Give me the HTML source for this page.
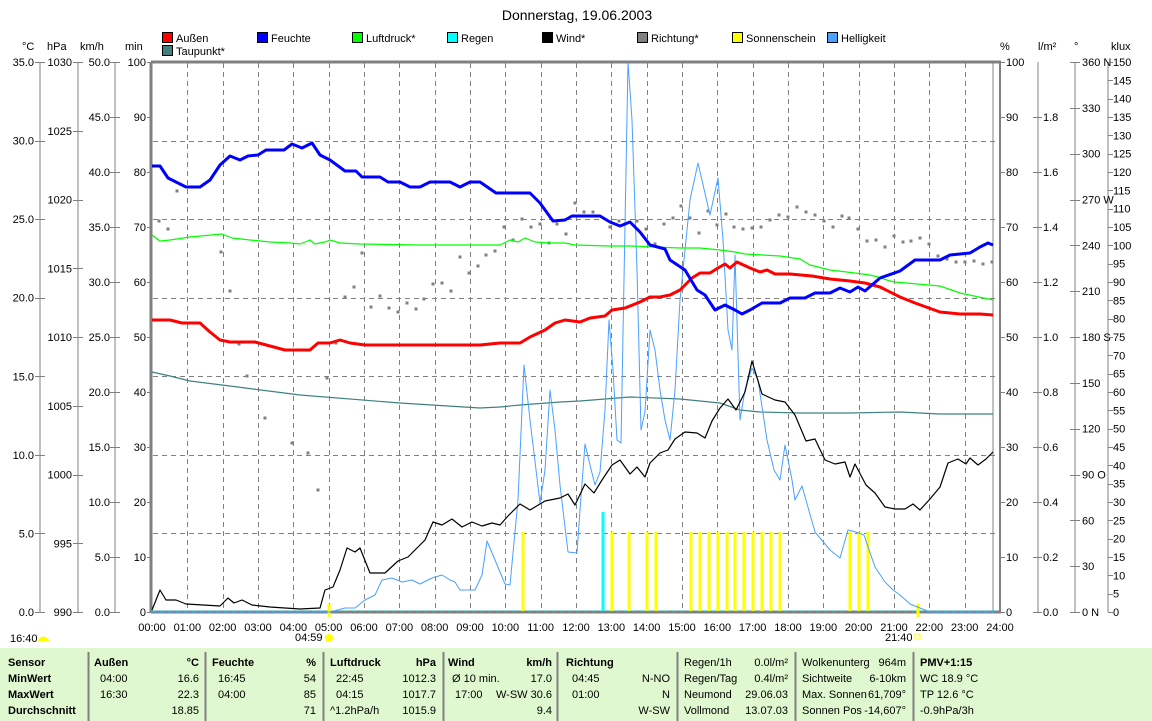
<!DOCTYPE html>
<html><head><meta charset="utf-8"><style>
html,body{margin:0;padding:0;background:#fff;width:1152px;height:721px;overflow:hidden}
svg{display:block;font-family:"Liberation Sans",sans-serif;font-size:11px}
</style></head><body>
<svg id="s" width="1152" height="721" xmlns="http://www.w3.org/2000/svg">
<rect x="0" y="648" width="1152" height="73" fill="#e0f8d0"/>
<text x="577" y="20" text-anchor="middle" font-size="14">Donnerstag, 19.06.2003</text>
<g id="g"></g>
</svg>
<script>
const NS="http://www.w3.org/2000/svg",G=document.getElementById('g');
function el(t,a,txt){const e=document.createElementNS(NS,t);for(const k in a)e.setAttribute(k,a[k]);if(txt!==undefined)e.textContent=txt;G.appendChild(e);return e;}
function T(x,y,s,o){o=o||{};return el('text',Object.assign({x:x,y:y},o),s);}
function L(x1,y1,x2,y2,c,w,d){const a={x1,y1,x2,y2,stroke:c,'stroke-width':w||1,'shape-rendering':'crispEdges'};if(d)a['stroke-dasharray']=d;return el('line',a);}
function P(pts,c,w){el('polyline',{points:pts.map(p=>p.join(',')).join(' '),fill:'none',stroke:c,'stroke-width':w,'stroke-linejoin':'round'});}
const X=h=>152+h*35.333;
for(let h=1;h<24;h++)L(Math.round(X(h))+.5,63,Math.round(X(h))+.5,611,'#808080',1,'5,4');
[141,219,298,376,455,533].forEach(y=>L(153,y+.5,999,y+.5,'#808080',1,'5,4'));
L(151,62,151,613,'#808080',3);L(151,612,1001,612,'#808080',3);L(151,62,1001,62,'#808080',3);L(1000,62,1000,613,'#808080',2);L(993,62,993,612,'#808080',1);
L(152,611,1000,611,'#00c8c8',1,'4,4');
L(40,62,40,612,'#808080');L(78,62,78,612,'#808080');L(115,62,115,612,'#808080');
T(22,50,'°C');T(47,50,'hPa');T(80,50,'km/h');T(125,50,'min');
for(let i=0;i<=7;i++){const y=612-i*78.57;T(34,y+4,(i*5).toFixed(1),{'text-anchor':'end'});L(35,Math.round(y)+.5,45,Math.round(y)+.5,'#808080');}
for(let i=0;i<=8;i++){const y=612-i*68.75;T(72,y+4,990+i*5,{'text-anchor':'end'});L(73,Math.round(y)+.5,83,Math.round(y)+.5,'#808080');}
for(let i=0;i<=10;i++){const y=612-i*55;T(110,y+4,(i*5).toFixed(1),{'text-anchor':'end'});L(110,Math.round(y)+.5,120,Math.round(y)+.5,'#808080');T(146,y+4,i*10,{'text-anchor':'end'});L(147,Math.round(y)+.5,152,Math.round(y)+.5,'#808080');}
T(1000,50,'%');T(1038,50,'l/m²');T(1074,50,'°');T(1111,50,'klux');
L(1038,62,1038,612,'#808080');L(1075,62,1075,612,'#808080');L(1108,62,1108,612,'#808080');
for(let i=0;i<=10;i++){const y=612-i*55;T(1006,y+4,i*10);L(1000,Math.round(y)+.5,1005,Math.round(y)+.5,'#808080');if(i<10){T(1043,y+4,(i*0.2).toFixed(1));L(1033,Math.round(y)+.5,1042,Math.round(y)+.5,'#808080');}}
const deg=['0 N','30','60','90 O','120','150','180 S','210','240','270 W','300','330','360 N'];
for(let i=0;i<=12;i++){const y=612-i*45.83;T(1082,y+4,deg[i]);L(1070,Math.round(y)+.5,1080,Math.round(y)+.5,'#808080');}
for(let i=0;i<=30;i++){const y=612-i*18.333;T(1113,y+4,i*5);L(1108,Math.round(y)+.5,1113,Math.round(y)+.5,'#808080');}
for(let h=0;h<=24;h++)T(X(h),631,(h<10?'0':'')+h+':00',{'text-anchor':'middle'});
T(10,642,'16:40');el('path',{d:'M38,641 a5,4 0 0 1 11,0 z',fill:'#ffff00'});
T(295,641,'04:59');el('circle',{cx:329,cy:638,r:4,fill:'#ffff00'});
T(885,641,'21:40');el('rect',{x:915,y:634,width:5,height:5,fill:'none',stroke:'#ffff00'});
L(329,604,329,617,'#ffff00',3);L(918,604,918,617,'#ffff00',3);
const lg=[[162,38,'#ff0000','Außen'],[257,38,'#0000ff','Feuchte'],[352,38,'#00ff00','Luftdruck*'],[447,38,'#00ffff','Regen'],[542,38,'#000000','Wind*'],[637,38,'#808080','Richtung*'],[732,38,'#ffff00','Sonnenschein'],[827,38,'#4aa0ff','Helligkeit'],[162,51,'#408080','Taupunkt*']];
lg.forEach(l=>{el('rect',{x:l[0]+.5,y:l[1]-5.5,width:10,height:10,fill:l[2],stroke:'#000'});T(l[0]+14,l[1]+4,l[3]);});
[523,612,629,647,656,691,700,709,718,727,735,744,753,762,771,780,850,859,868].forEach(x=>L(x,532,x,611,'#ffff00',3));
L(603,512,603,611,'#00ffff',3);
const dots=[[159,221],[168,229],[177,191],[221,252],[230,291],[239,344],[247,376],[265,418],[292,443],[308,453],[318,490],[327,378],[336,343],[345,297],[354,287],[362,253],[371,307],[380,296],[389,308],[398,312],[407,303],[416,309],[424,299],[433,284],[442,283],[451,291],[460,257],[469,273],[478,266],[486,255],[495,251],[504,227],[513,240],[522,219],[531,227],[540,224],[549,243],[557,224],[566,234],[575,203],[584,212],[593,212],[610,227],[619,221],[637,221],[646,229],[655,244],[664,224],[673,218],[681,206],[690,218],[699,233],[708,211],[717,225],[726,214],[734,227],[743,229],[752,228],[761,227],[770,220],[779,215],[788,217],[797,207],[806,212],[815,215],[824,221],[833,227],[842,216],[849,218],[858,229],[867,241],[876,240],[885,247],[894,236],[903,242],[911,241],[920,238],[929,244],[938,256],[947,259],[956,262],[965,262],[974,261],[983,264],[992,262]];
dots.forEach(d=>el('rect',{x:d[0]-1.5,y:d[1]-1.5,width:3,height:3,fill:'#808080'}));
P([[152,372],[170,376],[190,381],[230,386],[300,395],[400,403],[480,408],[500,407],[520,405],[560,402],[580,401],[630,397],[680,399],[700,401],[720,403],[740,410],[760,412],[800,413],[850,413],[900,412],[940,414],[993,414]],'#408080',1.2);
P([[152,612],[330,612],[345,608],[355,608],[365,600],[375,595],[382,580],[392,578],[402,582],[412,580],[420,584],[432,578],[442,575],[450,580],[455,582],[460,590],[475,590],[482,575],[487,541],[495,560],[505,584],[510,585],[518,500],[524,365],[530,420],[540,503],[545,470],[550,390],[555,430],[560,485],[568,552],[577,553],[580,510],[585,444],[590,465],[595,485],[600,472],[605,410],[609,320],[613,370],[617,440],[621,443],[628,62],[632,120],[637,270],[641,430],[645,412],[650,330],[655,350],[660,390],[665,420],[670,440],[675,390],[680,300],[690,200],[698,163],[710,215],[718,178],[723,240],[728,330],[732,350],[735,255],[740,420],[745,390],[752,368],[758,380],[767,440],[774,470],[780,480],[785,445],[792,480],[795,500],[802,486],[815,532],[830,550],[840,558],[848,530],[856,532],[864,535],[875,567],[885,582],[893,590],[900,595],[910,604],[920,608],[930,612],[993,612]],'#4aa0ff',1);
P([[152,610],[160,590],[166,600],[176,600],[186,604],[220,606],[228,598],[234,603],[242,600],[252,605],[270,607],[300,609],[320,608],[325,590],[333,587],[340,570],[347,548],[355,552],[360,548],[370,573],[385,573],[398,561],[408,557],[415,550],[425,540],[433,522],[442,525],[452,519],[462,527],[472,522],[482,526],[492,523],[500,525],[508,516],[520,504],[530,510],[545,501],[560,498],[568,494],[575,505],[585,484],[594,493],[602,480],[612,465],[620,460],[630,474],[637,467],[645,477],[650,463],[660,453],[668,450],[675,439],[685,432],[697,433],[705,438],[712,421],[720,408],[728,399],[736,410],[745,392],[752,361],[762,394],[775,400],[785,402],[795,415],[806,441],[815,439],[825,460],[835,464],[845,462],[850,477],[855,464],[866,485],[875,493],[885,507],[895,509],[905,509],[913,504],[920,510],[930,499],[940,487],[948,463],[958,459],[966,464],[970,458],[978,465],[986,459],[993,452]],'#000',1.2);
P([[152,235],[160,241],[170,240],[190,237],[222,234],[232,238],[250,240],[270,242],[290,243],[300,244],[310,240],[315,244],[325,242],[330,240],[340,243],[360,244],[420,245],[500,245],[510,240],[518,242],[525,238],[535,242],[550,243],[565,243],[575,245],[610,246],[630,246],[680,248],[700,248],[720,250],[735,252],[745,254],[780,256],[800,259],[810,265],[830,270],[855,273],[870,275],[878,277],[890,281],[895,282],[940,286],[960,293],[993,300]],'#00ff00',1.2);
P([[152,320],[170,320],[182,323],[200,323],[210,332],[220,340],[230,342],[255,342],[270,346],[285,350],[310,350],[318,343],[330,343],[340,340],[350,343],[365,345],[480,345],[500,343],[520,343],[530,337],[545,330],[555,323],[565,320],[580,322],[590,318],[605,316],[612,310],[625,308],[640,302],[650,297],[660,297],[670,295],[680,290],[692,278],[700,273],[710,273],[718,268],[725,264],[730,268],[737,262],[750,268],[760,272],[767,270],[775,274],[790,274],[812,276],[830,279],[850,281],[865,283],[880,287],[900,297],[915,303],[940,312],[960,314],[980,314],[993,315]],'#ff0000',3);
P([[152,166],[160,166],[168,178],[178,183],[186,187],[200,187],[210,180],[220,165],[230,156],[240,160],[248,156],[258,155],[266,150],[284,150],[292,144],[302,148],[312,143],[320,155],[330,160],[345,171],[356,171],[362,177],[380,177],[388,182],[400,182],[410,187],[420,187],[430,182],[450,182],[460,187],[470,182],[480,182],[496,193],[530,193],[540,203],[553,221],[565,220],[572,216],[600,216],[610,222],[620,226],[630,222],[640,232],[650,245],[665,249],[670,260],[685,270],[697,290],[705,295],[715,310],[725,305],[735,310],[742,314],[750,310],[762,303],[780,303],[790,298],[805,298],[815,293],[830,293],[840,288],[850,292],[858,287],[865,291],[880,278],[900,271],[915,260],[940,260],[950,255],[970,253],[980,247],[988,243],[993,245]],'#0000ff',3);
[88,205,323,443,557,677,795,913].forEach(x=>L(x+.5,652,x+.5,721,'#808080',2));
const B={'font-weight':'bold'},R={'text-anchor':'end'};
const rows=[666,682,698,714];
['Sensor','MinWert','MaxWert','Durchschnitt'].forEach((s,i)=>T(8,rows[i],s,B));
function col(x1,hdr,unit,xr,data){T(x1,rows[0],hdr,B);T(xr,rows[0],unit,Object.assign({},B,R));data.forEach((d,i)=>{if(d[0])T(x1+6,rows[i+1],d[0]);T(xr,rows[i+1],d[1],R);});}
col(94,'Außen','°C',199,[['04:00','16.6'],['16:30','22.3'],['','18.85']]);
col(212,'Feuchte','%',316,[['16:45','54'],['04:00','85'],['','71']]);
col(330,'Luftdruck','hPa',436,[['22:45','1012.3'],['04:15','1017.7'],['','1015.9']]);T(330,rows[3],'^1.2hPa/h');
T(448,rows[0],'Wind',B);T(552,rows[0],'km/h',Object.assign({},B,R));T(452,rows[1],'Ø 10 min.');T(552,rows[1],'17.0',R);T(455,rows[2],'17:00');T(552,rows[2],'W-SW 30.6',R);T(552,rows[3],'9.4',R);
T(566,rows[0],'Richtung',B);T(572,rows[1],'04:45');T(670,rows[1],'N-NO',R);T(572,rows[2],'01:00');T(670,rows[2],'N',R);T(670,rows[3],'W-SW',R);
[['Regen/1h','0.0l/m²'],['Regen/Tag','0.4l/m²'],['Neumond','29.06.03'],['Vollmond','13.07.03']].forEach((d,i)=>{T(684,rows[i],d[0]);T(788,rows[i],d[1],R);});
[['Wolkenunterg','964m'],['Sichtweite','6-10km'],['Max. Sonnen','61,709°'],['Sonnen Pos','-14,607°']].forEach((d,i)=>{T(802,rows[i],d[0]);T(906,rows[i],d[1],R);});
T(920,rows[0],'PMV+1:15',B);T(920,rows[1],'WC 18.9 °C');T(920,rows[2],'TP 12.6 °C');T(920,rows[3],'-0.9hPa/3h');
</script>
</body></html>
